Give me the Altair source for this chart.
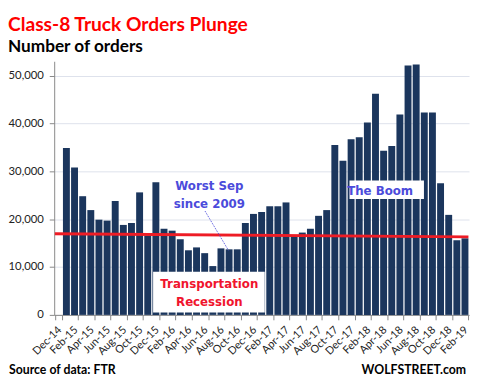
import altair as alt
import pandas as pd

months = [
    "Dec-14",
    "Jan-15", "Feb-15", "Mar-15", "Apr-15", "May-15", "Jun-15",
    "Jul-15", "Aug-15", "Sep-15", "Oct-15", "Nov-15", "Dec-15",
    "Jan-16", "Feb-16", "Mar-16", "Apr-16", "May-16", "Jun-16",
    "Jul-16", "Aug-16", "Sep-16", "Oct-16", "Nov-16", "Dec-16",
    "Jan-17", "Feb-17", "Mar-17", "Apr-17", "May-17", "Jun-17",
    "Jul-17", "Aug-17", "Sep-17", "Oct-17", "Nov-17", "Dec-17",
    "Jan-18", "Feb-18", "Mar-18", "Apr-18", "May-18", "Jun-18",
    "Jul-18", "Aug-18", "Sep-18", "Oct-18", "Nov-18", "Dec-18",
    "Jan-19", "Feb-19",
]
orders = [
    None,
    34900, 30800, 24800, 21900, 19900, 19700,
    23800, 18800, 19200, 25600, 16600, 27700,
    18000, 17600, 15800, 13500, 14100, 12900,
    10200, 13900, 13700, 13700, 19200, 21100,
    21500, 22700, 22700, 23500, 16500, 17200,
    18000, 20700, 21900, 35500, 32200, 36700,
    37100, 40200, 46200, 34300, 35300, 41900,
    52100, 52300, 42300, 42300, 27500, 20900,
    15600, 16000,
]
tick_labels = months[::2]
y_ticks = [0, 10000, 20000, 30000, 40000, 50000]

NAVY = "#1B365D"
RED_LINE = "#EE1C25"
ANNOT_BLUE = "#4B4BDB"
ANNOT_RED = "#F0142D"

df = pd.DataFrame({"month": months, "orders": orders})

xscale = alt.Scale(domain=months, paddingInner=0.15, paddingOuter=0.075)
yscale = alt.Scale(domain=[0, 53000], nice=False)

x_axis = alt.Axis(values=tick_labels, labelAngle=-45, tickBand="extent",
                  labelFont="Lato", labelFontSize=11, labelColor="#222",
                  labelPadding=4, labelOffset=-3, tickSize=5, tickColor="#888",
                  domainColor="#888", grid=False, labelOverlap=False, title=None)
y_axis = alt.Axis(values=y_ticks, format=",.0f", labelFont="Lato",
                  labelFontSize=11.5, labelColor="#222", labelPadding=6,
                  tickSize=5, tickColor="#888", domainColor="#888",
                  gridColor="#DDE1EC", title=None)


def X(field, bp):
    return alt.X(field, bandPosition=bp, scale=xscale, sort=months, axis=x_axis, title=None)


def Y(field):
    return alt.Y(field, scale=yscale, axis=y_axis, title=None)


bars = alt.Chart(df).mark_bar(color=NAVY).encode(
    x=X("month:N", 0.5),
    y=Y("orders:Q"),
)

red_df = pd.DataFrame({"x0": ["Dec-14"], "x1": ["Feb-19"], "y0": [16950], "y1": [16300]})
red_line = alt.Chart(red_df).mark_rule(color=RED_LINE, strokeWidth=3).encode(
    x=X("x0:N", 0),
    x2=alt.X2("x1", bandPosition=1),
    y=Y("y0:Q"),
    y2="y1",
)

box_df = pd.DataFrame({
    "x0": ["Dec-15", "Dec-17"],
    "x1": ["Jan-17", "Sep-18"],
    "y0": [9000, 28100], "y1": [500, 24200],
})
box1 = alt.Chart(box_df.iloc[[0]]).mark_rect(color="white").encode(
    x=X("x0:N", 0.1),
    x2=alt.X2("x1", bandPosition=0.95),
    y=Y("y0:Q"), y2="y1",
)
box2 = alt.Chart(box_df.iloc[[1]]).mark_rect(color="white").encode(
    x=X("x0:N", 0.27),
    x2=alt.X2("x1", bandPosition=0.45),
    y=Y("y0:Q"), y2="y1",
)

arrow_df = pd.DataFrame({"x0": ["Jun-16"], "x1": ["Sep-16"], "y0": [21700], "y1": [13500]})
arrow = alt.Chart(arrow_df).mark_rule(color=ANNOT_BLUE, strokeWidth=1, strokeDash=[1, 1]).encode(
    x=X("x0:N", 0.55),
    x2=alt.X2("x1", bandPosition=0.4),
    y=Y("y0:Q"), y2="y1",
)

txt_df = pd.DataFrame({
    "m": ["Jul-16", "Jul-16", "Apr-18"],
    "v": [26200, 5700, 25000],
    "t": ["Worst Sep\nsince 2009", "Transportation\nRecession", "The Boom"],
    "c": ["blue", "red", "blue"],
})
texts = alt.Chart(txt_df).mark_text(
    font="DejaVu Sans", fontWeight="bold", fontSize=12, align="center",
    baseline="alphabetic", lineBreak="\n", lineHeight=19,
).encode(
    x=X("m:N", 0),
    y=Y("v:Q"),
    text="t:N",
    color=alt.Color("c:N", scale=alt.Scale(domain=["blue", "red"], range=[ANNOT_BLUE, ANNOT_RED]), legend=None),
)

foot_df = pd.DataFrame({"t": ["Source of data: FTR"]})
foot_left = alt.Chart(foot_df).mark_text(
    font="Lato", fontWeight="bold", fontSize=12.5, align="left", baseline="alphabetic", color="black"
).encode(text="t:N", x=alt.value(-46), y=alt.value(318))
foot_df2 = pd.DataFrame({"t": ["WOLFSTREET.com"]})
foot_right = alt.Chart(foot_df2).mark_text(
    font="Lato", fontWeight="bold", fontSize=12.5, align="right", baseline="alphabetic", color="black"
).encode(text="t:N", x=alt.value(419), y=alt.value(318))

chart = alt.layer(bars, red_line, box1, box2, arrow, texts, foot_left, foot_right).properties(
    width=422, height=258,
    autosize=alt.AutoSizeParams(type="none"),
    padding={"left": 47, "top": 51, "right": 2, "bottom": 60},
    title=alt.TitleParams(
        text="Class-8 Truck Orders Plunge", subtitle="Number of orders",
        anchor="start", frame="group", dx=-47, offset=5,
        font="Lato", fontSize=19.5, fontWeight="bold", color="#FF0000",
        subtitleFont="Lato", subtitleFontSize=17.5, subtitleFontWeight="bold",
        subtitleColor="black", subtitlePadding=3,
    ),
).configure_view(stroke=None)

chart.save("out.html", embed_options={"renderer": "svg", "actions": False})
